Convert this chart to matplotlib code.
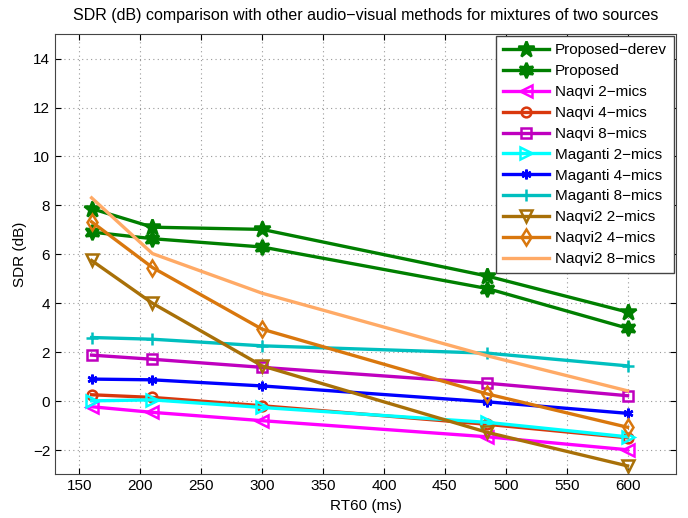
import matplotlib
matplotlib.use('Agg')
import matplotlib.pyplot as plt

plt.rcParams['font.family'] = ['Liberation Sans', 'DejaVu Sans']

# RT60 values (ms)
rt60 = [160, 210, 300, 485, 600]

# SDR (dB) per method
proposed_derev = [7.87, 7.11, 7.02, 5.11, 3.64]
proposed = [6.91, 6.64, 6.30, 4.60, 2.98]
naqvi_2 = [-0.23, -0.46, -0.80, -1.46, -1.99]
naqvi_4 = [0.26, 0.15, -0.19, -0.95, -1.50]
naqvi_8 = [1.88, 1.71, 1.38, 0.73, 0.22]
maganti_2 = [0.01, 0.05, -0.26, -0.87, -1.46]
maganti_4 = [0.90, 0.87, 0.62, -0.03, -0.50]
maganti_8 = [2.60, 2.53, 2.26, 1.96, 1.44]
naqvi2_2 = [5.75, 4.00, 1.44, -1.28, -2.65]
naqvi2_4 = [7.33, 5.46, 2.94, 0.29, -1.07]
naqvi2_8 = [8.31, 6.03, 4.41, 1.85, 0.42]

series = [
    ('Proposed\u2212derev', proposed_derev, '#007f00', '*', True, 12),
    ('Proposed', proposed, '#007f00', (6, 1, 0), True, 11),
    ('Naqvi 2\u2212mics', naqvi_2, '#ff00ff', '<', False, 8),
    ('Naqvi 4\u2212mics', naqvi_4, '#d9380d', 'o', False, 7),
    ('Naqvi 8\u2212mics', naqvi_8, '#bf00bf', 's', False, 7),
    ('Maganti 2\u2212mics', maganti_2, '#00ffff', '>', False, 8),
    ('Maganti 4\u2212mics', maganti_4, '#0000ff', (6, 2, 0), False, 7),
    ('Maganti 8\u2212mics', maganti_8, '#00bfbf', '+', False, 8),
    ('Naqvi2 2\u2212mics', naqvi2_2, '#a87008', 'v', False, 9),
    ('Naqvi2 4\u2212mics', naqvi2_4, '#d9770d', 'd', False, 8),
    ('Naqvi2 8\u2212mics', naqvi2_8, '#ffaa66', None, False, 7),
]

fig = plt.figure(figsize=(6.88, 5.18), dpi=100)
ax = fig.add_axes([0.080, 0.084, 0.903, 0.850])

for label, vals, color, marker, filled, ms in series:
    ax.plot(rt60, vals, color=color, lw=2.4, marker=marker, ms=ms,
            mfc=color if filled else 'none', mec=color, mew=1.8,
            label=label)

ax.set_xlim(130, 640)
ax.set_ylim(-3, 15)
ax.set_xticks(range(150, 601, 50))
ax.set_yticks(range(-2, 15, 2))
ax.set_yticklabels([str(v).replace('-', '\u2212') for v in range(-2, 15, 2)])
ax.grid(True, linestyle=(0, (1, 3)), color='#999999', lw=0.8)
ax.tick_params(direction='in', top=True, right=True, labelsize=11, length=4)
for sp in ax.spines.values():
    sp.set_color('#444444')

ax.set_xlabel('RT60 (ms)', fontsize=11)
ax.set_ylabel('SDR (dB)', fontsize=11)
ax.set_title('SDR (dB) comparison with other audio\u2212visual methods for mixtures of two sources',
             fontsize=11.5, pad=10)

ax.legend(loc='upper right', fontsize=11, fancybox=False, framealpha=1,
          edgecolor='#444444', handlelength=3.0, borderaxespad=0.15,
          labelspacing=0.45, handletextpad=0.4, borderpad=0.45)

fig.savefig('out.png', dpi=100)
